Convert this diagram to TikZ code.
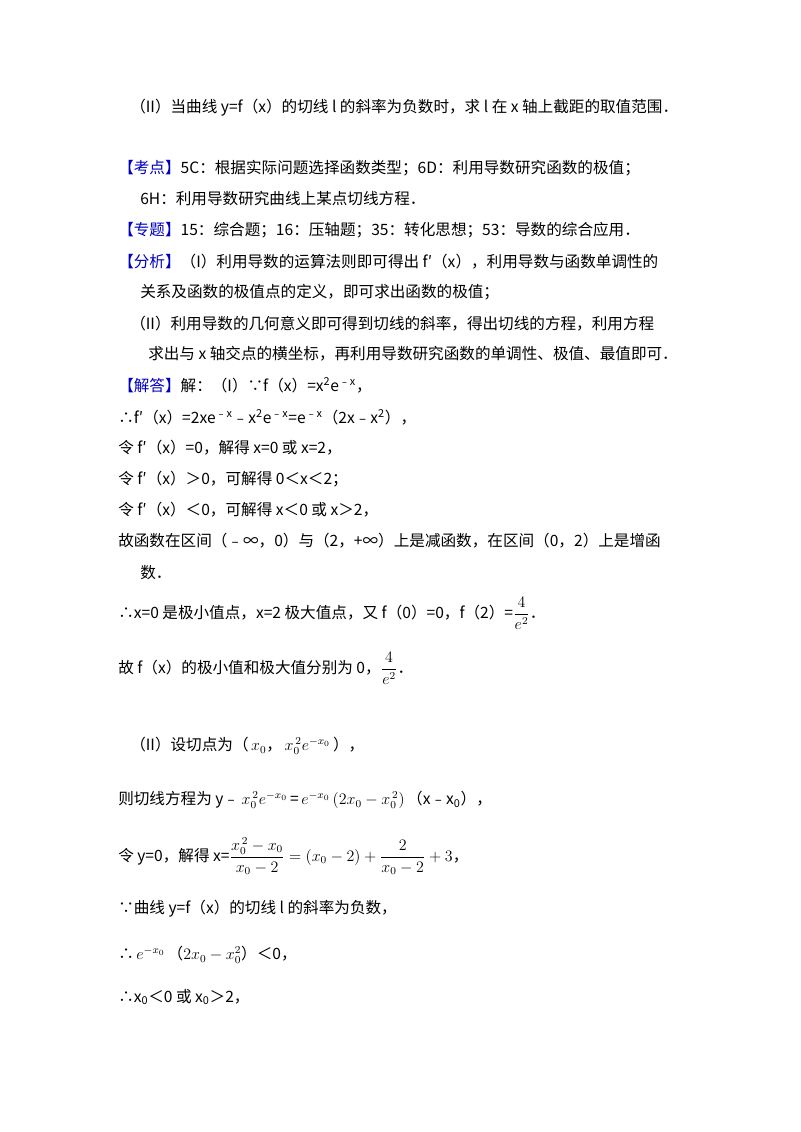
\documentclass[tikz,border=0pt]{standalone}
\usepackage{fontspec}
\setmainfont{Noto Sans CJK SC}
\begin{document}
\begin{tikzpicture}[x=0.75pt,y=-0.75pt,
  ln/.style={anchor=west,inner sep=0pt,font=\fontsize{11.7}{14}\selectfont}]
\useasboundingbox (0,0) rectangle (800,1132);
\node[ln] (l1) at (130,108) {（II）当曲线 y=f（x）的切线 l 的斜率为负数时，求 l 在 x 轴上截距的取值范围．};
\node[ln] (l2) at (118,168) {\textcolor{blue!75!black}{【考点】}5C：根据实际问题选择函数类型；6D：利用导数研究函数的极值；};
\node[ln] (l3) at (140,199) {6H：利用导数研究曲线上某点切线方程．};
\node[ln] (l4) at (118,230) {\textcolor{blue!75!black}{【专题】}15：综合题；16：压轴题；35：转化思想；53：导数的综合应用．};
\node[ln] (l5) at (118,262) {\textcolor{blue!75!black}{【分析】}（I）利用导数的运算法则即可得出 f′（x），利用导数与函数单调性的};
\node[ln] (l6) at (140,292) {关系及函数的极值点的定义，即可求出函数的极值；};
\node[ln] (l7) at (130,324) {（II）利用导数的几何意义即可得到切线的斜率，得出切线的方程，利用方程};
\node[ln] (l8) at (148,354) {求出与 x 轴交点的横坐标，再利用导数研究函数的单调性、极值、最值即可．};
\node[ln] (l9) at (118,385) {\textcolor{blue!75!black}{【解答】}解：（I）∵f（x）=x\textsuperscript{2}e\textsuperscript{﹣x}，};
\node[ln] (l10) at (118,417) {∴f′（x）=2xe\textsuperscript{﹣x}﹣x\textsuperscript{2}e\textsuperscript{﹣x}=e\textsuperscript{﹣x}（2x﹣x\textsuperscript{2}），};
\node[ln] (l11) at (118,448) {令 f′（x）=0，解得 x=0 或 x=2，};
\node[ln] (l12) at (118,479) {令 f′（x）＞0，可解得 0＜x＜2；};
\node[ln] (l13) at (118,510) {令 f′（x）＜0，可解得 x＜0 或 x＞2，};
\node[ln] (l14) at (118,541) {故函数在区间（﹣∞，0）与（2，+∞）上是减函数，在区间（0，2）上是增函};
\node[ln] (l15) at (140,573) {数．};
\node[ln] (l16) at (118,613) {∴x=0 是极小值点，x=2 极大值点，又 f（0）=0，f（2）=$\displaystyle\frac{4}{e^{2}}$．};
\node[ln] (l17) at (118,668) {故 f（x）的极小值和极大值分别为 0，$\displaystyle\frac{4}{e^{2}}$．};
\node[ln] (l18) at (130,746) {（II）设切点为（\,$x_0$，\,$x_0^{\,2}e^{-x_0}$\,），};
\node[ln] (l19) at (118,800) {则切线方程为 y﹣\,$x_0^{\,2}e^{-x_0}$\,=\,$e^{-x_0}\,(2x_0-x_0^{\,2})$\,（x﹣x\textsubscript{0}），};
\node[ln] (l20) at (118,856) {令 y=0，解得 x=$\displaystyle\frac{x_0^{\,2}-x_0}{x_0-2}=(x_0-2)+\frac{2}{x_0-2}+3$，};
\node[ln] (l21) at (118,909) {∵曲线 y=f（x）的切线 l 的斜率为负数，};
\node[ln] (l22) at (118,955) {∴\,$e^{-x_0}$\,（$2x_0-x_0^{2}$）＜0，};
\node[ln] (l23) at (118,997) {∴x\textsubscript{0}＜0 或 x\textsubscript{0}＞2，};
\end{tikzpicture}
\end{document}
